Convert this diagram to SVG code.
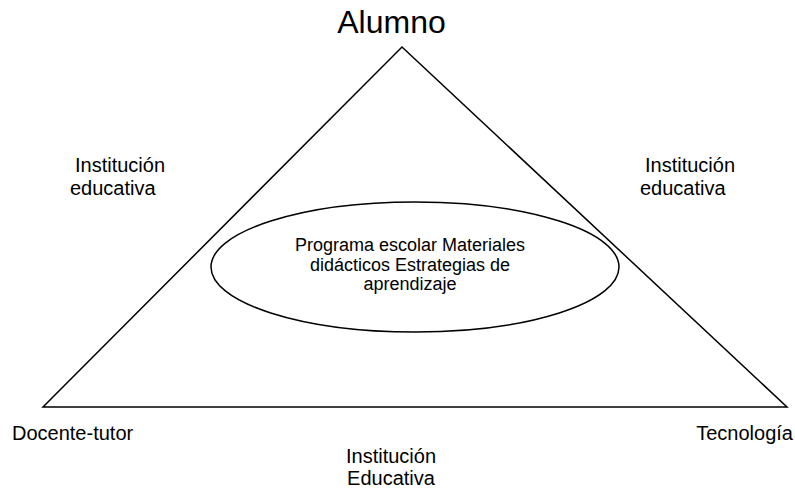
<svg xmlns="http://www.w3.org/2000/svg" width="795" height="491" viewBox="0 0 795 491">
<style>
.t{font-family:"Liberation Sans",Arial,sans-serif;fill:#000}
.l{font-size:20px}
.s{font-size:18px}
.shape{fill:none;stroke:#000;stroke-width:1.5}
</style>
<rect width="795" height="491" fill="#fff"/>
<g id="connectors">
<path class="shape" d="M402,47 L787,407 L43,407 Z"/>
</g>
<g id="alumno"><text class="t" x="391.5" y="33" text-anchor="middle" font-size="32">Alumno</text></g>
<g id="centro">
<ellipse class="shape" cx="415" cy="267" rx="204" ry="65"/>
<text class="t s" text-anchor="middle"><tspan x="410" y="251">Programa escolar Materiales</tspan><tspan x="410" y="270.5">didácticos Estrategias de</tspan><tspan x="410" y="290">aprendizaje</tspan></text>
</g>
<g id="inst-izq"><text class="t l"><tspan x="75" y="172">Institución</tspan><tspan x="70" y="195">educativa</tspan></text></g>
<g id="inst-der"><text class="t l"><tspan x="645" y="172">Institución</tspan><tspan x="640" y="195">educativa</tspan></text></g>
<g id="docente"><text class="t l" x="12" y="440">Docente-tutor</text></g>
<g id="tecnologia"><text class="t l" x="793" y="440" text-anchor="end">Tecnología</text></g>
<g id="inst-abajo"><text class="t l" text-anchor="middle"><tspan x="391" y="463">Institución</tspan><tspan x="391" y="485">Educativa</tspan></text></g>
</svg>
